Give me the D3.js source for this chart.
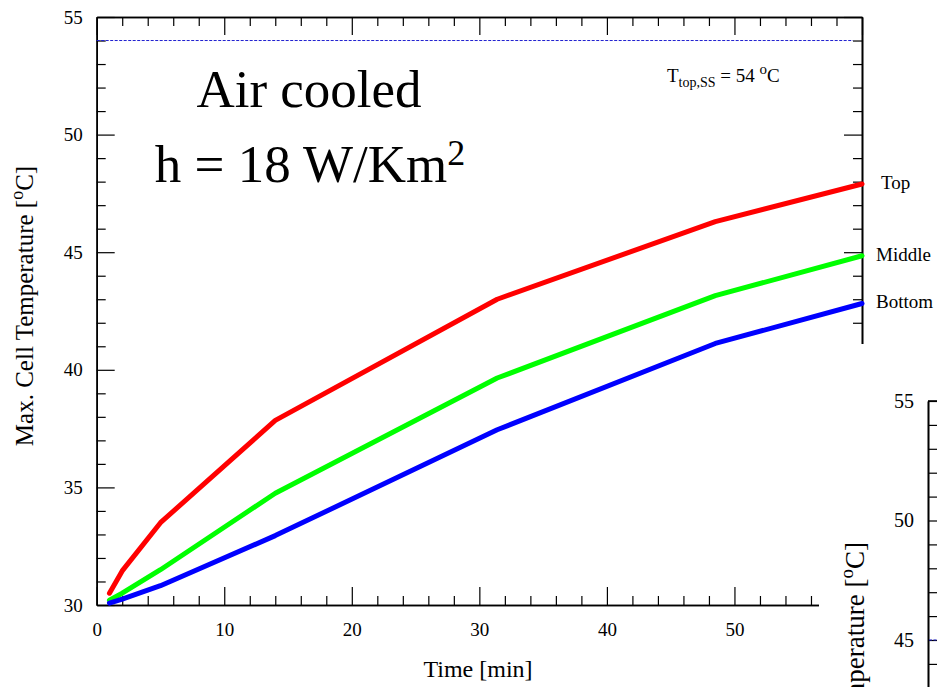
<!DOCTYPE html>
<html>
<head>
<meta charset="utf-8">
<script src="https://cdn.jsdelivr.net/npm/d3@7"></script>
<style>
  body { margin: 0; background: #fff; }
  svg { display: block; font-family: "Liberation Serif", "Times New Roman", serif; }
</style>
</head>
<body>
<div id="wrapper"></div>
<script>
// data
const timeMin = [1, 2, 5, 14, 31.4, 48.5, 60]
const topTemp = [30.5, 31.45, 33.5, 37.85, 43.0, 46.3, 47.9]
const middleTemp = [30.2, 30.5, 31.5, 34.75, 39.65, 43.15, 44.85]
const bottomTemp = [30.08, 30.25, 30.82, 32.95, 37.45, 41.12, 42.82]
const seriesNames = ["Top", "Middle", "Bottom"]
const seriesColors = ["#ff0000", "#00ff00", "#0000ff"]
const xTicks = [0, 10, 20, 30, 40, 50, 60]
const yTicks = [30, 35, 40, 45, 50, 55]
const steadyTemp = 54
const steadyRange = [0, 59.3]
const steadyTemp2 = 45

function drawChart() {
  //1_dimensions
  let dimensions = {
    width: 937,
    height: 687,
    margin: { top: 17, left: 96.7 },
    boundedWidth: 765.3,
    boundedHeight: 588,
  }

  //2_canvas
  const svg = d3.select("#wrapper").append("svg")
      .attr("width", dimensions.width)
      .attr("height", dimensions.height)
  const bounds = svg.append("g")
      .attr("transform", `translate(${dimensions.margin.left},${dimensions.margin.top})`)

  //3_scales
  const xScale = d3.scaleLinear()
      .domain([0, 60])
      .range([0, dimensions.boundedWidth])
  const yScale = d3.scaleLinear()
      .domain([30, 55])
      .range([dimensions.boundedHeight, 0])

  const xMinor = d3.range(0, 61, 2).filter(v => v % 10 != 0)
  const yMinor = d3.range(30, 56, 1).filter(v => v % 5 != 0)

  const styleAxis = (g, fontSize = 19) => {
    g.attr("font-family", null).attr("font-size", null)
    g.select(".domain").attr("stroke", "#000").attr("stroke-width", 1.6)
    g.selectAll(".tick line").attr("stroke", "#000").attr("stroke-width", 1.2)
    g.selectAll(".tick text").attr("fill", "#000").style("font-size", fontSize + "px")
  }

  //4_axes (ticks point inward)
  bounds.append("g")
      .attr("transform", `translate(0,${dimensions.boundedHeight})`)
      .call(d3.axisBottom(xScale).tickValues(xMinor).tickSize(-9).tickSizeOuter(0).tickFormat(""))
      .call(styleAxis)
  bounds.append("g")
      .attr("transform", `translate(0,${dimensions.boundedHeight})`)
      .call(d3.axisBottom(xScale).tickValues(xTicks).tickSize(-18).tickSizeOuter(0).tickPadding(18))
      .call(styleAxis)
  bounds.append("g")
      .call(d3.axisTop(xScale).tickValues(xMinor).tickSize(-9).tickSizeOuter(0).tickFormat(""))
      .call(styleAxis)
  bounds.append("g")
      .call(d3.axisTop(xScale).tickValues(xTicks).tickSize(-18).tickSizeOuter(0).tickFormat(""))
      .call(styleAxis)
  bounds.append("g")
      .call(d3.axisLeft(yScale).tickValues(yMinor).tickSize(-9).tickSizeOuter(0).tickFormat(""))
      .call(styleAxis)
  bounds.append("g")
      .call(d3.axisLeft(yScale).tickValues(yTicks).tickSize(-18).tickSizeOuter(0).tickPadding(14))
      .call(styleAxis)
  bounds.append("g")
      .attr("transform", `translate(${dimensions.boundedWidth},0)`)
      .call(d3.axisRight(yScale).tickValues(yMinor).tickSize(-9).tickSizeOuter(0).tickFormat(""))
      .call(styleAxis)
  bounds.append("g")
      .attr("transform", `translate(${dimensions.boundedWidth},0)`)
      .call(d3.axisRight(yScale).tickValues(yTicks).tickSize(-18).tickSizeOuter(0).tickFormat(""))
      .call(styleAxis)

  //5_steady state line
  bounds.append("line")
      .attr("x1", xScale(steadyRange[0]))
      .attr("x2", xScale(steadyRange[1]))
      .attr("y1", yScale(steadyTemp))
      .attr("y2", yScale(steadyTemp))
      .attr("stroke", "#2020d0")
      .attr("stroke-width", 1)
      .attr("stroke-dasharray", "3,1.5")

  //6_lines
  const series = [topTemp, middleTemp, bottomTemp]
  const lineGen = d3.line()
      .x((d, i) => xScale(timeMin[i]))
      .y(d => yScale(d))
  bounds.selectAll(".series")
      .data(series)
      .enter().append("path")
      .attr("class", "series")
      .attr("d", lineGen)
      .attr("fill", "none")
      .attr("stroke", (d, i) => seriesColors[i])
      .attr("stroke-width", 5)
      .attr("stroke-linecap", "round")
      .attr("stroke-linejoin", "round")

  bounds.selectAll(".serieslabel")
      .data(series)
      .enter().append("text")
      .attr("class", "serieslabel")
      .attr("x", (d, i) => xScale(timeMin[timeMin.length - 1]) + (i == 0 ? 19 : 14))
      .attr("y", d => yScale(d[d.length - 1]) + 5)
      .text((d, i) => seriesNames[i])
      .style("font-size", "19px")

  //7_annotations
  const title = svg.append("g")
  title.append("text")
      .attr("x", 309).attr("y", 107)
      .attr("text-anchor", "middle")
      .style("font-size", "53px")
      .text("Air cooled")
  const hText = title.append("text")
      .attr("x", 310).attr("y", 182)
      .attr("text-anchor", "middle")
      .style("font-size", "53px")
  hText.append("tspan").text("h = 18 W/Km")
  hText.append("tspan").attr("dy", -17).style("font-size", "36px").text("2")

  const ss = svg.append("text")
      .attr("x", 667).attr("y", 82)
      .style("font-size", "19px")
  ss.append("tspan").text("T")
  ss.append("tspan").attr("dy", 5).style("font-size", "14px").text("top,SS")
  ss.append("tspan").attr("dy", -5).text(" = 54 ")
  ss.append("tspan").attr("dy", -8).style("font-size", "15px").text("o")
  ss.append("tspan").attr("dy", 8).text("C")

  svg.append("text")
      .attr("x", 478).attr("y", 677)
      .attr("text-anchor", "middle")
      .style("font-size", "24px")
      .text("Time [min]")

  const yLabel = svg.append("text")
      .attr("transform", "translate(33,306) rotate(-90)")
      .attr("text-anchor", "middle")
      .style("font-size", "25px")
  yLabel.append("tspan").text("Max. Cell Temperature [")
  yLabel.append("tspan").attr("dy", -10).style("font-size", "18px").text("o")
  yLabel.append("tspan").attr("dy", 10).text("C]")

  //8_second panel peeking in at the bottom right
  const panel = svg.append("g")
  panel.append("rect")
      .attr("x", 819).attr("y", 344)
      .attr("width", 118).attr("height", 343)
      .attr("fill", "#fff")
  const y2Scale = d3.scaleLinear()
      .domain([30, 55])
      .range([401 + 25 * 23.9, 401])
  const bounds2 = panel.append("g").attr("transform", "translate(928,0)")
  bounds2.append("g")
      .call(d3.axisLeft(y2Scale).tickValues(yMinor).tickSize(-9).tickSizeOuter(0).tickFormat(""))
      .call(styleAxis, 20)
  bounds2.append("g")
      .call(d3.axisLeft(y2Scale).tickValues(yTicks).tickSize(-18).tickSizeOuter(0).tickPadding(14))
      .call(styleAxis, 20)
  bounds2.append("line")
      .attr("x1", 0).attr("x2", 20)
      .attr("y1", y2Scale(55)).attr("y2", y2Scale(55))
      .attr("stroke", "#000").attr("stroke-width", 1.6)
  bounds2.append("line")
      .attr("x1", 1).attr("x2", 20)
      .attr("y1", y2Scale(steadyTemp2)).attr("y2", y2Scale(steadyTemp2))
      .attr("stroke", "#2020d0").attr("stroke-width", 1.2)
      .attr("stroke-dasharray", "3,1.5")
  const yLabel2 = panel.append("text")
      .attr("transform", "translate(864,542) rotate(-90)")
      .attr("text-anchor", "end")
      .style("font-size", "27px")
  yLabel2.append("tspan").text("Max. Cell Temperature [")
  yLabel2.append("tspan").attr("dy", -11).style("font-size", "19px").text("o")
  yLabel2.append("tspan").attr("dy", 11).text("C]")
}
drawChart()
</script>
</body>
</html>
